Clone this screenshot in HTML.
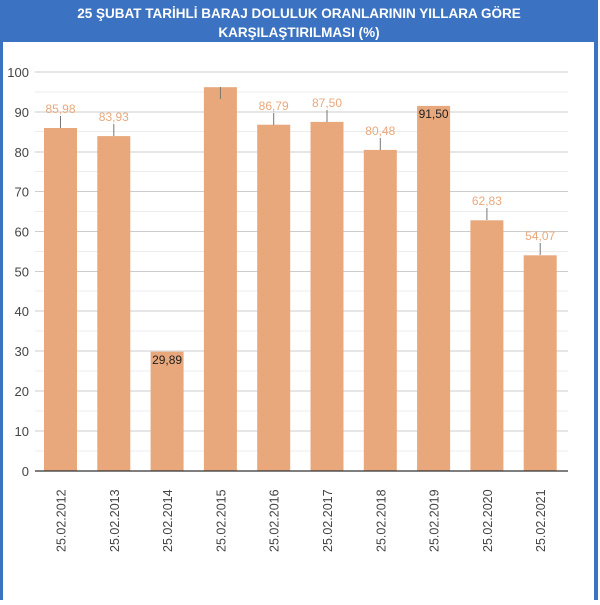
<!DOCTYPE html><html><head><style>body{margin:0;width:600px;height:600px;background:#fff;overflow:hidden}</style></head><body>
<svg width="600" height="600" xmlns="http://www.w3.org/2000/svg" font-family="Liberation Sans, Arial, sans-serif">
<rect x="0" y="0" width="598" height="600" fill="#3b73c2"/>
<rect x="3" y="42" width="591" height="558" fill="#fff"/>
<text x="299" y="18" font-size="13.5" font-weight="bold" fill="#fff" text-anchor="middle">25 ŞUBAT TARİHLİ BARAJ DOLULUK ORANLARININ YILLARA GÖRE</text>
<text x="299" y="37" font-size="13.5" font-weight="bold" fill="#fff" text-anchor="middle">KARŞILAŞTIRILMASI (%)</text>
<g stroke="#ececec">
<line x1="35" x2="568" y1="451" y2="451"/><line x1="35" x2="568" y1="411" y2="411"/><line x1="35" x2="568" y1="371" y2="371"/><line x1="35" x2="568" y1="331" y2="331"/><line x1="35" x2="568" y1="291" y2="291"/><line x1="35" x2="568" y1="251.5" y2="251.5"/><line x1="35" x2="568" y1="211.5" y2="211.5"/><line x1="35" x2="568" y1="171.5" y2="171.5"/><line x1="35" x2="568" y1="131.5" y2="131.5"/><line x1="35" x2="568" y1="92" y2="92"/>
</g>
<g stroke="#cccccc">
<line x1="35" x2="568" y1="431" y2="431"/><line x1="35" x2="568" y1="391" y2="391"/><line x1="35" x2="568" y1="351" y2="351"/><line x1="35" x2="568" y1="311" y2="311"/><line x1="35" x2="568" y1="271.5" y2="271.5"/><line x1="35" x2="568" y1="231.5" y2="231.5"/><line x1="35" x2="568" y1="191.5" y2="191.5"/><line x1="35" x2="568" y1="152" y2="152"/><line x1="35" x2="568" y1="112" y2="112"/><line x1="35" x2="568" y1="72" y2="72"/>
</g>
<g font-size="13" fill="#444" text-anchor="end">
<text x="29" y="476">0</text><text x="29" y="436">10</text><text x="29" y="396">20</text><text x="29" y="356">30</text><text x="29" y="316">40</text><text x="29" y="276.5">50</text><text x="29" y="236.5">60</text><text x="29" y="196.5">70</text><text x="29" y="157">80</text><text x="29" y="117">90</text><text x="29" y="77">100</text>
</g>
<g fill="#e8a87c">
<rect x="44" y="128" width="33" height="343"/>
<rect x="97.3" y="136.1" width="33" height="334.9"/>
<rect x="150.6" y="351.7" width="33" height="119.3"/>
<rect x="203.9" y="87.2" width="33" height="383.8"/>
<rect x="257.2" y="124.7" width="33" height="346.3"/>
<rect x="310.5" y="121.9" width="33" height="349.1"/>
<rect x="363.8" y="149.9" width="33" height="321.1"/>
<rect x="417.1" y="105.9" width="33" height="365.1"/>
<rect x="470.4" y="220.3" width="33" height="250.7"/>
<rect x="523.7" y="255.3" width="33" height="215.7"/>
</g>
<g stroke="#777">
<line x1="60.5" x2="60.5" y1="116" y2="128"/>
<line x1="113.8" x2="113.8" y1="124" y2="136"/>
<line x1="220.4" x2="220.4" y1="87" y2="99"/>
<line x1="273.7" x2="273.7" y1="113" y2="125"/>
<line x1="327" x2="327" y1="110" y2="122"/>
<line x1="380.3" x2="380.3" y1="138" y2="150"/>
<line x1="486.9" x2="486.9" y1="208" y2="220"/>
<line x1="540.2" x2="540.2" y1="243" y2="255"/>
</g>
<g font-size="12" fill="#e8a87c" text-anchor="middle">
<text x="60.5" y="113">85,98</text>
<text x="113.8" y="121">83,93</text>
<text x="273.7" y="110">86,79</text>
<text x="327" y="107">87,50</text>
<text x="380.3" y="135">80,48</text>
<text x="486.9" y="205">62,83</text>
<text x="540.2" y="240">54,07</text>
</g>
<g font-size="12" fill="#222" text-anchor="middle">
<text x="167.1" y="364">29,89</text>
<text x="433.6" y="118">91,50</text>
</g>
<line x1="35" x2="568" y1="471" y2="471" stroke="#333" stroke-width="1.3"/>
<g font-size="12.5" fill="#444">
<text transform="translate(65.5,552) rotate(-90)">25.02.2012</text>
<text transform="translate(118.8,552) rotate(-90)">25.02.2013</text>
<text transform="translate(172.1,552) rotate(-90)">25.02.2014</text>
<text transform="translate(225.4,552) rotate(-90)">25.02.2015</text>
<text transform="translate(278.7,552) rotate(-90)">25.02.2016</text>
<text transform="translate(332,552) rotate(-90)">25.02.2017</text>
<text transform="translate(385.3,552) rotate(-90)">25.02.2018</text>
<text transform="translate(438.6,552) rotate(-90)">25.02.2019</text>
<text transform="translate(491.9,552) rotate(-90)">25.02.2020</text>
<text transform="translate(545.2,552) rotate(-90)">25.02.2021</text>
</g>
</svg></body></html>
